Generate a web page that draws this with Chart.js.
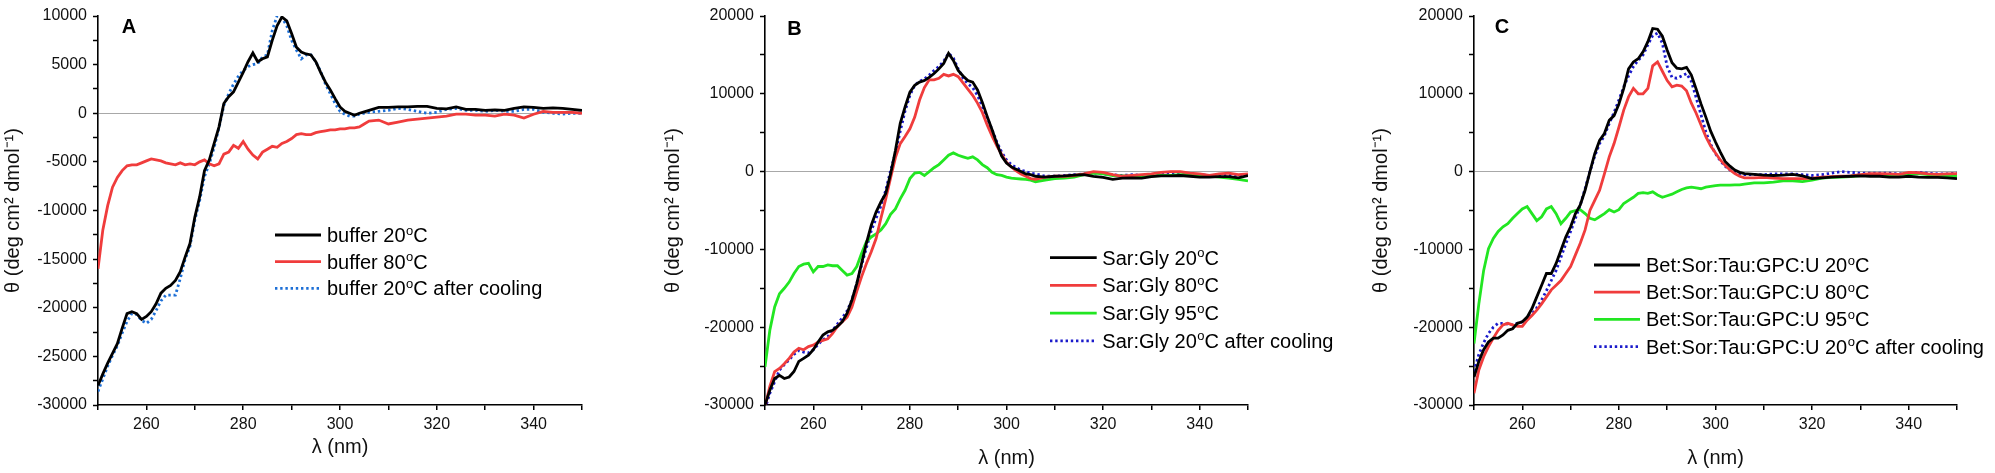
<!DOCTYPE html>
<html>
<head>
<meta charset="utf-8">
<script src="https://cdn.jsdelivr.net/npm/chart.js@4.4.1/dist/chart.umd.min.js"></script>
<style>
  html, body { margin: 0; padding: 0; background: #fff; }
  #wrap { position: relative; width: 1995px; height: 473px; overflow: hidden; }
  canvas { position: absolute; top: 0; }
</style>
</head>
<body>
<div id="wrap">
  <canvas id="chartA" width="665" height="473" style="left:0px"></canvas>
  <canvas id="chartB" width="700" height="473" style="left:660px"></canvas>
  <canvas id="chartC" width="627" height="473" style="left:1368px"></canvas>
</div>
<script>
// wavelengths (nm): 1 nm steps up to 306, then 2 nm steps
const wavelengths = [
  250,251,252,253,254,255,256,257,258,259,260,261,262,263,264,265,266,267,268,269,
  270,271,272,273,274,275,276,277,278,279,280,281,282,283,284,285,286,287,288,289,
  290,291,292,293,294,295,296,297,298,299,300,301,302,303,304,305,306,
  308,310,312,314,316,318,320,322,324,326,328,330,332,334,336,338,340,342,344,346,348,350
];

// panel A - buffer
const bufferLabels = ['buffer 20ºC', 'buffer 80ºC', 'buffer 20ºC after cooling'];
const buffer20 = [
  -28000,-26800,-25700,-24700,-23700,-22100,-20600,-20400,-20600,-21200,-20900,-20400,-19600,-18500,-18000,-17700,-17200,-16300,-14800,-13400,
  -10700,-8600,-5900,-4800,-3100,-1400,1000,1700,2200,3200,4200,5300,6200,5300,5600,5800,7500,9000,9900,9500,
  8200,6800,6300,6100,6000,5300,4200,3200,2400,1500,650,200,0,-200,0,150,300,
  600,600,650,650,700,700,500,450,650,400,400,300,350,300,500,650,600,500,550,500,400,300
];
const buffer80 = [
  -16000,-12000,-9500,-7600,-6600,-5900,-5400,-5300,-5300,-5100,-4900,-4700,-4800,-4900,-5100,-5200,-5300,-5100,-5300,-5200,
  -5300,-5000,-4800,-5200,-5400,-5200,-4200,-4000,-3300,-3600,-2900,-3700,-4300,-4700,-4000,-3700,-3400,-3500,-3100,-2900,
  -2600,-2200,-2100,-2200,-2200,-2000,-1900,-1800,-1700,-1700,-1600,-1600,-1500,-1500,-1400,-1100,-800,
  -700,-1100,-900,-700,-600,-500,-400,-300,-100,-100,-200,-200,-300,-100,-200,-500,-100,200,100,100,100,0
];
const buffer20cool = [
  -28600,-27300,-26000,-24900,-23900,-22600,-21400,-20600,-20700,-21300,-21600,-21200,-20300,-19300,-18700,-18700,-18700,-17000,-15000,-13700,
  -11000,-9000,-6500,-5200,-3500,-1500,800,2000,3000,3800,4400,4800,5000,5100,5800,6000,8500,10000,9800,9000,
  7500,6500,5600,6000,6000,5300,4300,3000,2000,1000,200,-100,-300,-300,-100,0,100,
  200,300,500,400,200,0,100,400,500,300,300,200,300,200,200,400,400,100,0,-100,0,0
];

// panel B - Sar:Gly
const sarGlyLabels = ['Sar:Gly 20ºC', 'Sar:Gly 80ºC', 'Sar:Gly 95ºC', 'Sar:Gly 20ºC after cooling'];
const sarGly20 = [
  -30000,-28100,-26600,-26200,-26600,-26400,-25700,-24400,-24000,-23600,-22900,-21900,-21000,-20600,-20400,-19900,-19300,-18200,-16500,-14400,
  -11800,-9200,-6900,-5200,-3900,-2800,-300,2700,6200,8300,10200,11100,11500,11700,12100,12600,13200,13900,15200,14300,
  13000,12300,11700,11500,10500,8900,7100,5400,3600,2000,1100,600,300,0,-300,-400,-600,
  -700,-600,-550,-450,-400,-600,-750,-1000,-850,-800,-850,-650,-550,-550,-500,-600,-700,-700,-650,-650,-800,-500
];
const sarGly80 = [
  -30200,-27600,-25700,-25300,-24700,-24000,-23200,-22700,-22900,-22500,-22300,-21900,-21700,-21500,-20800,-19900,-19300,-18700,-17400,-15400,
  -13500,-11800,-10300,-8600,-6000,-3500,-800,1800,3600,4500,5500,7000,9200,10800,11800,11800,12000,12500,12300,12500,
  12200,11400,10600,9800,8800,7600,6000,4600,3300,2200,1200,600,100,-300,-600,-900,-1000,
  -700,-600,-600,-500,-300,0,-100,-400,-600,-500,-400,-300,-100,0,0,-200,-300,-500,-300,-200,-400,-300
];
const sarGly95 = [
  -25100,-20400,-17400,-15700,-15000,-14200,-13100,-12200,-11900,-11800,-12900,-12200,-12200,-12000,-12100,-12100,-12700,-13300,-13100,-12200,
  -10500,-9000,-8400,-8000,-7500,-6700,-5500,-4800,-3500,-2400,-900,-200,-100,-500,0,500,900,1500,2100,2400,
  2100,1900,1700,1900,1500,900,500,-100,-400,-500,-700,-850,-900,-950,-1000,-1100,-1300,
  -1100,-900,-850,-700,-400,-200,-300,-500,-550,-600,-700,-550,-500,-500,-400,-350,-500,-550,-700,-850,-1000,-1200
];
const sarGly20cool = [
  -30500,-28500,-27000,-25500,-24800,-24200,-23500,-23000,-23200,-23300,-22900,-22200,-21600,-21200,-20400,-19600,-18800,-17900,-16500,-14400,
  -12000,-9800,-7600,-6000,-4400,-2400,100,2400,5200,7800,9800,11100,11600,11900,12400,13000,13500,14200,15200,14600,
  13200,12000,11300,10800,9800,8400,6900,5400,3800,2500,1500,900,500,200,0,-200,-300,
  -600,-600,-500,-400,-300,-200,-300,-400,-500,-400,-500,-400,-400,-300,-300,-400,-400,-500,-500,-400,-500,-400
];

// panel C - Bet:Sor:Tau:GPC:U
const mixLabels = ['Bet:Sor:Tau:GPC:U 20ºC', 'Bet:Sor:Tau:GPC:U 80ºC', 'Bet:Sor:Tau:GPC:U 95ºC', 'Bet:Sor:Tau:GPC:U 20ºC after cooling'];
const mix20 = [
  -26400,-24400,-22900,-21900,-21400,-21400,-21000,-20400,-20200,-19500,-19300,-18700,-17600,-16100,-14600,-13100,-13100,-11800,-10100,-8400,
  -7100,-5400,-4300,-2400,0,2300,4000,4900,6600,7200,8700,10700,13200,14100,14500,15400,16700,18400,18300,17400,
  15600,14000,13300,13200,13400,12400,10600,8700,7000,5200,3800,2500,1300,700,200,-100,-250,
  -350,-450,-500,-450,-350,-550,-900,-800,-700,-650,-600,-550,-600,-600,-700,-700,-600,-700,-750,-750,-800,-900
];
const mix80 = [
  -28500,-25500,-23800,-22500,-21400,-20400,-19700,-19500,-19700,-19900,-19900,-19100,-18500,-17800,-17000,-16100,-15200,-14600,-14000,-13100,
  -12200,-10700,-9200,-7500,-5000,-3700,-2400,-300,1900,3600,5700,7900,9600,10700,10000,10000,10700,13600,14100,12900,
  11700,10900,11100,11000,10400,8800,7500,6000,4500,3300,2400,1500,800,200,-250,-600,-800,
  -800,-750,-850,-900,-900,-900,-850,-700,-650,-600,-550,-400,-250,-250,-300,-350,-100,-150,-300,-350,-300,-250
];
const mix95 = [
  -22100,-17000,-12700,-9900,-8600,-7700,-7100,-6700,-6000,-5400,-4800,-4500,-5400,-6300,-5800,-4800,-4500,-5400,-6700,-6000,
  -5200,-5000,-4900,-5400,-6000,-6200,-5800,-5400,-4900,-5200,-4900,-4100,-3700,-3300,-2800,-2700,-2800,-2600,-3000,-3300,
  -3100,-2900,-2600,-2300,-2100,-2000,-2100,-2200,-2000,-1900,-1800,-1750,-1750,-1750,-1700,-1700,-1600,
  -1450,-1450,-1350,-1200,-1200,-1300,-1100,-850,-750,-700,-650,-500,-500,-500,-400,-350,-300,-250,-400,-500,-550,-600
];
const mix20cool = [
  -25700,-23500,-22000,-20800,-20000,-19500,-19500,-19600,-19700,-19500,-19300,-18900,-18300,-17500,-16500,-15300,-14000,-12700,-11000,-9300,
  -7700,-6000,-4300,-2200,0,2000,3600,4600,6200,7600,9200,10900,12300,13500,14300,15000,16300,17500,17800,16500,
  13500,12100,12000,12300,12600,11600,9500,7300,5100,3500,2300,1400,700,200,-100,-300,-400,
  -400,-400,-300,-300,-300,-400,-500,-400,-200,0,-100,-200,-200,-200,-200,-300,-200,-100,-200,-300,-300,-200
];

const FONT = '"Liberation Sans", Arial, sans-serif';
const COLORS = { black: '#000000', red: '#f03c3c', green: '#22e622', blueA: '#1d6fd6', blueB: '#1a1acb' };

function points(values) {
  return wavelengths.map((w, i) => ({ x: w, y: values[i] }));
}

function series(label, values, color, dotted) {
  return {
    label: label,
    data: points(values),
    borderColor: color,
    borderWidth: 2.8,
    borderDash: dotted ? [2.4, 2.8] : [],
    pointRadius: 0,
    tension: 0,
    fill: false
  };
}

// draws "20ºC" with the º as a small raised o
function drawDegreeText(ctx, text, x, y) {
  const parts = text.split('º');
  ctx.textAlign = 'left';
  ctx.textBaseline = 'alphabetic';
  ctx.fillStyle = '#000';
  let cx = x;
  parts.forEach((p, i) => {
    ctx.font = '20px ' + FONT;
    ctx.fillText(p, cx, y + 7);
    cx += ctx.measureText(p).width;
    if (i < parts.length - 1) {
      ctx.font = '13px ' + FONT;
      ctx.fillText('o', cx + 0.5, y - 0.5);
      cx += ctx.measureText('o').width + 0.5;
    }
  });
}

const panelDecor = {
  id: 'panelDecor',
  afterDraw(chart, args, opts) {
    const ctx = chart.ctx;
    ctx.save();
    ctx.font = 'bold 20px ' + FONT;
    ctx.fillStyle = '#000';
    ctx.textAlign = 'center';
    ctx.textBaseline = 'middle';
    ctx.fillText(opts.letter, opts.letterX, opts.letterY);
    chart.data.datasets.forEach((ds, i) => {
      const y = opts.legendY + i * opts.legendDy;
      ctx.strokeStyle = ds.borderColor;
      ctx.lineWidth = ds.borderWidth;
      ctx.setLineDash(ds.borderDash);
      ctx.beginPath();
      ctx.moveTo(opts.lineX0, y);
      ctx.lineTo(opts.lineX1, y);
      ctx.stroke();
      ctx.setLineDash([]);
      drawDegreeText(ctx, ds.label, opts.textX, y);
    });
    ctx.restore();
  }
};

function makePanel(id, datasets, cfg) {
  const canvas = document.getElementById(id);
  return new Chart(canvas, {
    type: 'line',
    data: { datasets: datasets },
    options: {
      responsive: false,
      animation: false,
      events: [],
      layout: { padding: { left: 0, top: cfg.top, right: canvas.width - cfg.plotRight, bottom: 0 } },
      plugins: {
        legend: { display: false },
        tooltip: { enabled: false },
        panelDecor: cfg.decor
      },
      scales: {
        x: {
          type: 'linear',
          min: 250,
          max: 350,
          afterFit: s => { s.height = 473 - cfg.plotBottom; },
          ticks: {
            stepSize: 10,
            autoSkip: false,
            maxRotation: 0,
            padding: 5,
            color: '#111',
            font: { family: FONT, size: 16 },
            callback: v => (v % 20 === 0 && v > 250 && v < 350) ? String(v) : ''
          },
          grid: { drawOnChartArea: false, drawTicks: true, tickLength: 5, color: '#000', lineWidth: 1.5 },
          border: { color: '#000', width: 1.6 },
          title: { display: true, text: 'λ (nm)', color: '#111', font: { family: FONT, size: 20 }, padding: { top: 0, bottom: cfg.xTitlePad } }
        },
        y: {
          type: 'linear',
          min: -30000,
          max: cfg.yMax,
          afterFit: s => { s.width = cfg.plotLeft; },
          ticks: {
            stepSize: cfg.yStep / 2,
            autoSkip: false,
            padding: 6,
            color: '#111',
            font: { family: FONT, size: 16 },
            callback: v => (v % cfg.yStep === 0) ? String(v) : ''
          },
          grid: {
            drawOnChartArea: true,
            drawTicks: true,
            tickLength: 5,
            tickColor: '#000',
            tickWidth: 1.5,
            lineWidth: 1,
            color: c => (c.tick && c.tick.value === 0) ? '#a8a8a8' : 'rgba(0,0,0,0)'
          },
          border: { color: '#000', width: 1.6 },
          title: { display: true, text: 'θ (deg cm² dmol⁻¹)', color: '#111', font: { family: FONT, size: 20 }, padding: { top: 1, bottom: 0 } }
        }
      }
    },
    plugins: [panelDecor]
  });
}

makePanel('chartA', [
  series(bufferLabels[0], buffer20, COLORS.black, false),
  series(bufferLabels[1], buffer80, COLORS.red, false),
  series(bufferLabels[2], buffer20cool, COLORS.blueA, true)
], {
  plotLeft: 98, plotRight: 582, top: 16, plotBottom: 405, yMax: 10000, yStep: 5000, xTitlePad: 14,
  decor: { letter: 'A', letterX: 129, letterY: 27, legendY: 235, legendDy: 26.7, lineX0: 275, lineX1: 321, textX: 327 }
});

makePanel('chartB', [
  series(sarGlyLabels[0], sarGly20, COLORS.black, false),
  series(sarGlyLabels[1], sarGly80, COLORS.red, false),
  series(sarGlyLabels[2], sarGly95, COLORS.green, false),
  series(sarGlyLabels[3], sarGly20cool, COLORS.blueB, true)
], {
  plotLeft: 105, plotRight: 588, top: 16, plotBottom: 405, yMax: 20000, yStep: 10000, xTitlePad: 3,
  decor: { letter: 'B', letterX: 134.5, letterY: 29, legendY: 257.7, legendDy: 27.7, lineX0: 390, lineX1: 436.7, textX: 442.3 }
});

makePanel('chartC', [
  series(mixLabels[0], mix20, COLORS.black, false),
  series(mixLabels[1], mix80, COLORS.red, false),
  series(mixLabels[2], mix95, COLORS.green, false),
  series(mixLabels[3], mix20cool, COLORS.blueB, true)
], {
  plotLeft: 106, plotRight: 589, top: 16, plotBottom: 405, yMax: 20000, yStep: 10000, xTitlePad: 3,
  decor: { letter: 'C', letterX: 134, letterY: 27, legendY: 265, legendDy: 27.2, lineX0: 226, lineX1: 272, textX: 278 }
});
</script>
</body>
</html>
